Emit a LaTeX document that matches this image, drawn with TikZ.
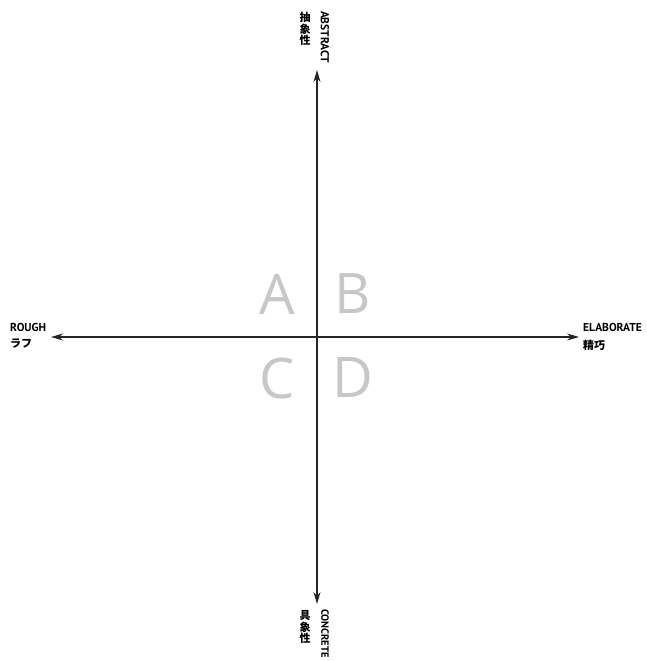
\documentclass[tikz,border=0pt]{standalone}
\usepackage{fontspec}
\setmainfont{Open Sans}
\newfontfamily\axisfont{PT Sans}
\newfontfamily\jpfont{Noto Sans CJK JP}
\usetikzlibrary{arrows.meta}

\begin{document}
\begin{tikzpicture}[
    x=1pt, y=-1pt,
    axis/.style={{Stealth[length=12pt,width=7pt]}-{Stealth[length=12pt,width=7pt]}, line width=1.1pt, black!85},
    axislabel/.style={font=\axisfont\bfseries\fontsize{11.5}{11.5}\selectfont, inner sep=0pt},
    jplabel/.style={font=\jpfont\bfseries\fontsize{11}{11.5}\selectfont, inner sep=0pt, align=center},
    quadrant/.style={font=\fontsize{56}{56}\selectfont, text=black!22, inner sep=0pt}
]
  \useasboundingbox (0,0) rectangle (646,661);

  % axes
  \coordinate (o)     at (317,337);
  \coordinate (top)   at (317,70);
  \coordinate (bot)   at (317,604);
  \coordinate (left)  at (51,337);
  \coordinate (right) at (579,337);
  \draw[axis] (bot) -- (top);
  \draw[axis] (left) -- (right);

  % axis ends
  \node[axislabel, rotate=-90] (abs) at (325,37) {ABSTRACT};
  \node[jplabel] (absjp) at (305,29) {抽\\象\\性};
  \node[axislabel, font=\axisfont\bfseries\fontsize{10.5}{10.5}\selectfont, rotate=-90, anchor=west] (con) at (325,609) {CONCRETE};
  \node[jplabel] (conjp) at (305,627) {具\\象\\性};
  \node[axislabel, anchor=west] (rough) at (10,327) {ROUGH};
  \node[jplabel, anchor=west] (roughjp) at (10,344) {ラフ};
  \node[axislabel, anchor=west] (elab) at (583,327) {ELABORATE};
  \node[jplabel, anchor=west] (elabjp) at (583,345) {精巧};

  % quadrants
  \node[quadrant] (qa) at (277,294) {A};
  \node[quadrant] (qb) at (353,294) {B};
  \node[quadrant] (qc) at (277,378) {C};
  \node[quadrant] (qd) at (353,378) {D};
\end{tikzpicture}
\end{document}
